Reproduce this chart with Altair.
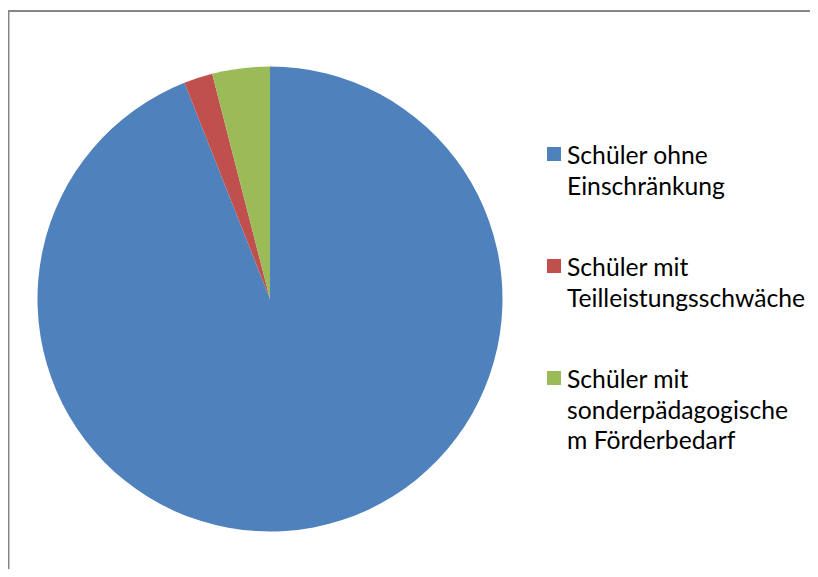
import altair as alt
import pandas as pd

categories = [
    "Schüler ohne Einschränkung",
    "Schüler mit Teilleistungsschwäche",
    "Schüler mit sonderpädagogischem Förderbedarf",
]
values = [94, 2, 4]
colors = ["#4F81BD", "#C0504D", "#9BBB59"]
legend_labels = [
    "Schüler ohne\nEinschränkung",
    "Schüler mit\nTeilleistungsschwäche",
    "Schüler mit\nsonderpädagogische\nm Förderbedarf",
]
order = [0, 1, 2]

df = pd.DataFrame({"category": categories, "value": values, "order": order, "label": legend_labels})
one = pd.DataFrame({"a": [0]})

color = alt.Color("category:N", scale=alt.Scale(domain=categories, range=colors), legend=None)
yleg = alt.Y("order:Q", scale=alt.Scale(domain=[0, 2], range=[146, 370]), axis=None)

pie = alt.Chart(df).mark_arc(radius=232.5).encode(
    theta=alt.Theta("value:Q", stack=True),
    order=alt.Order("order:Q"),
    color=color,
    x=alt.value(262),
    y=alt.value(291),
)

squares = alt.Chart(df).mark_square(size=196, opacity=1).encode(
    x=alt.value(546), y=yleg, color=color
)

texts = alt.Chart(df).mark_text(
    align="left", baseline="alphabetic", lineBreak="\n", lineHeight=30.5,
    fontSize=24.7, font="Lato", dy=10, color="#000000"
).encode(x=alt.value(559), y=yleg, text="label:N")

border_left = alt.Chart(one).mark_rule(color="#868686", strokeWidth=2).encode(
    x=alt.value(0.5), y=alt.value(2.5), y2=alt.value(561)
)
border_top = alt.Chart(one).mark_rule(color="#868686", strokeWidth=2).encode(
    x=alt.value(0), x2=alt.value(802), y=alt.value(3)
)

chart = alt.layer(pie, squares, texts, border_left, border_top).properties(
    width=802, height=561, autosize=alt.AutoSizeParams(type="none"), padding=0,
    background="white"
).configure_view(stroke=None)

chart.save("out.html", embed_options={"renderer": "svg", "actions": False})
